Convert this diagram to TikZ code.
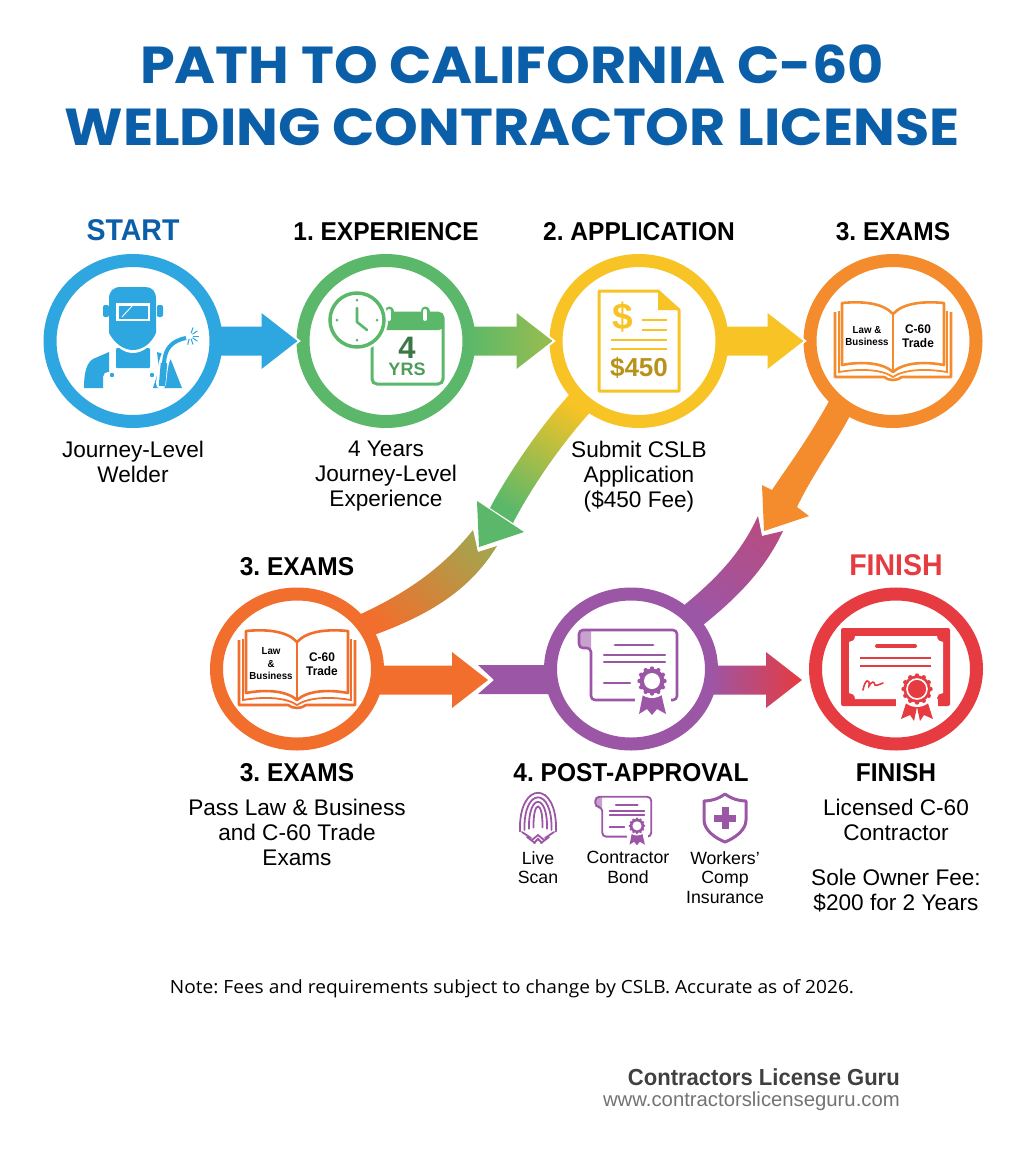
\documentclass[tikz,border=0pt]{standalone}
\usepackage{fontspec}
\usepackage{tikz}
\usetikzlibrary{calc,positioning,shapes.geometric}

\setmainfont{Liberation Sans}
\newfontfamily\headfont[FakeStretch=0.95]{Liberation Sans}
\newfontfamily\titlefont[FakeStretch=1.07]{Poppins}
\newfontfamily\notefont[FakeStretch=1.05]{Open Sans}
\frenchspacing

\definecolor{stepblue}{HTML}{2EA6DF}
\definecolor{stepgreen}{HTML}{5BB86A}
\definecolor{stepyellow}{HTML}{F7C325}
\definecolor{steporange}{HTML}{F48C2E}
\definecolor{stepember}{HTML}{F26E2C}
\definecolor{stepviolet}{HTML}{9C56A6}
\definecolor{stepred}{HTML}{E63B40}
\definecolor{titleblue}{HTML}{0B5FA8}

% straight thick arrow: source, target, tip shift, height, two colours
\newcommand{\flatarrow}[6]{
    \coordinate (tiphere) at ($(#2.west |- #1.center)+(#3,#4)$);
    \coordinate (tailhere) at ($(#1.east)+(-8,#4)$);
    \draw[halo] (tiphere) -- ++(-36,-28) -- ++(0,56) -- cycle;
    \shade[left color=#5,right color=#6] ($(tailhere)+(0,-14.5)$) -- ($(tiphere)+(-36,-14.5)$)
        -- ($(tiphere)+(-36,-28)$) -- (tiphere) -- ($(tiphere)+(-36,28)$)
        -- ($(tiphere)+(-36,14.5)$) -- ($(tailhere)+(0,14.5)$) -- cycle;
}

\newcommand{\rosette}[4]{ % x, y, radius, colour
    \begin{scope}[shift={(#1,#2)}]
        \fill[white] (0,0) circle [radius=#3+3];
        \fill[#4] (0,0) circle [radius=#3-1.5];
        \foreach \a in {0,30,...,330}
            \fill[#4] (\a:#3-1.5) circle [radius=2.2];
    \end{scope}
}

\newcommand{\bookicon}[4]{ % colour, left text, right text, name
    \draw[#1, line width=2.6pt, line join=round, fill=white]
        (-51,-38) .. controls (-30,-40) and (-10,-38) .. (0,-27)
        .. controls (10,-38) and (30,-40) .. (51,-38) -- (51,24)
        .. controls (30,20) and (10,22) .. (0,31)
        .. controls (-10,22) and (-30,20) .. (-51,24) -- cycle;
    \draw[#1, line width=2.6pt] (0,-27) -- (0,31);
    \draw[#1, line width=1.8pt] (-54,-30) -- (-54,31) .. controls (-30,27) and (-10,29) .. (0,36)
        .. controls (10,29) and (30,27) .. (54,31) -- (54,-30);
    \draw[#1, line width=2.6pt, line join=round] (-58,-29) -- (-58,36) -- (-9,36)
        .. controls (-4,40) and (4,40) .. (9,36) -- (58,36) -- (58,-29);
    \node[booktext] (#4law) at (-26,-5) {#2};
    \node[booktext, font=\headfont\bfseries\fontsize{12.5}{14.5}\selectfont] (#4trade) at (25,-5) {#3};
}

\newcommand{\scrollicon}[1]{ % line width
    \fill[stepviolet!55!white] (-52,-21) -- (-52,-34) .. controls (-52,-38) and (-49,-39) .. (-46,-39)
        -- (-40,-39) -- (-40,-21) -- cycle;
    \draw[stepviolet, line width=#1, line join=round, rounded corners=4pt]
        (-52,-21) -- (-52,-39) -- (46,-39) -- (46,31) -- (-40,31) -- (-40,-21) -- cycle;
    \draw[stepviolet, line width=1.1*#1, line cap=round] (-16,-24) -- (22,-24);
    \draw[stepviolet, line width=.8*#1, line cap=round] (-27,-14) -- (34,-14);
    \draw[stepviolet, line width=.8*#1, line cap=round] (-27,-7) -- (34,-7);
    \draw[stepviolet, line width=.8*#1, line cap=round] (-27,14) -- (-1,14);
    \fill[white] (4,22) rectangle (40,48);
    \fill[stepviolet] (13,20) -- (8,45) -- (16,40) -- (21,46) -- (26,40) -- (35,45) -- (29,20) -- cycle;
    \rosette{21}{12}{14}{stepviolet}
    \fill[white] (21,12) circle [radius=8];
}

\begin{document}
\begin{tikzpicture}[
    x = 1pt, y = -1pt, % one unit is one pixel of the picture
    node distance = 13pt,
    stepring/.style = {shape=ellipse, draw=#1, fill=white, line width=13pt, inner sep=0pt,
        minimum width=166pt, minimum height=161pt},
    lowring/.style = {stepring=#1, minimum width=161pt, minimum height=150pt},
    steptitle/.style = {inner sep=0pt, font=\headfont\bfseries\fontsize{25.8}{28}\selectfont},
    endtitle/.style = {inner sep=0pt, font=\headfont\bfseries\fontsize{30}{32}\selectfont},
    steptext/.style = {inner sep=0pt, align=center, font=\fontsize{22.6}{25}\selectfont},
    minitext/.style = {inner sep=0pt, align=center, font=\fontsize{17.7}{19.5}\selectfont},
    booktext/.style = {inner sep=0pt, align=center, font=\headfont\bfseries\fontsize{10.2}{12.5}\selectfont},
    halo/.style = {draw=white, line width=4pt, line join=miter}
    ]

    \useasboundingbox (0,0) rectangle (1024,1154);

    \node[inner sep=0pt, text=titleblue, align=center, font=\titlefont\bfseries\fontsize{52}{62}\selectfont]
        (headline) at (512,95) {PATH TO CALIFORNIA C-60\\WELDING CONTRACTOR LICENSE};

    % the rings
    \node[stepring=stepblue] (start) at (133,341) {};
    \node[stepring=stepgreen] (experience) [right=74pt of start] {};
    \node[stepring=stepyellow] (application) [right=74pt of experience] {};
    \node[stepring=steporange] (exams) [right=75pt of application] {};
    \node[lowring=stepember] (lowexams) at (297,669) {};
    \node[lowring=stepviolet] (post) at (631,669) {};
    \node[lowring=stepred] (finish) at (896,669) {};

    % bands that end in a swallow tail
    \fill[stepviolet] ($(post.west)+(8,-4)$) -- ($(post.west)+(-66,-4)$) -- ($(post.west)+(-50,11)$)
        -- ($(post.west)+(-66,25)$) -- ($(post.west)+(8,25)$) -- cycle;
    \coordinate (violetup) at (758,516);
    \coordinate (violetdown) at (783,531);
    \shade[top color=stepviolet!65!stepred, bottom color=stepviolet, shading angle=-35]
        ($(post.51)!6pt!(post.center)$) .. controls (715,580) and (740,555) .. (violetup) -- (762,536)
        -- (violetdown) .. controls (765,570) and (735,600) .. ($(post.31)!6pt!(post.center)$) -- cycle;
    \coordinate (emberup) at (473,530);
    \coordinate (emberdown) at (497,546);
    \shade[top color=stepgreen!50!steporange, bottom color=stepember, shading angle=-45]
        ($(lowexams.42)!6pt!(lowexams.center)$) .. controls (410,592) and (445,565) .. (emberup) -- (478,552)
        -- (emberdown) .. controls (470,590) and (430,615) .. ($(lowexams.24)!6pt!(lowexams.center)$) -- cycle;

    % arrows
    \flatarrow{start}{experience}{1}{0}{stepblue}{stepblue}
    \flatarrow{experience}{application}{3}{0}{stepgreen}{stepgreen!60!stepyellow}
    \flatarrow{application}{exams}{0}{0}{stepyellow}{stepyellow}
    \flatarrow{lowexams}{post}{-56}{11}{stepember}{stepember}
    \flatarrow{post}{finish}{-7}{11}{stepviolet}{stepred}

    \coordinate (greenwest) at (477,501);
    \coordinate (greentip) at (479,547);
    \coordinate (greeneast) at (524,532);
    \draw[halo] (greenwest) -- (greentip) -- (greeneast) -- cycle;
    \shade[top color=stepyellow, bottom color=stepgreen, shading angle=-30]
        ($(application.217)!6pt!(application.center)$) .. controls (545,420) and (510,470) .. (490,508)
        -- (513,523) .. controls (530,490) and (560,445) .. ($(application.236)!6pt!(application.center)$) -- cycle;
    \fill[stepgreen] (greenwest) -- (greentip) -- (greeneast) -- cycle;

    \coordinate (orangewest) at (762,485);
    \coordinate (orangetip) at (764,531);
    \coordinate (orangeeast) at (809,516);
    \draw[halo] (orangewest) -- (orangetip) -- (orangeeast) -- cycle;
    \fill[steporange] ($(exams.222)!6pt!(exams.center)$) .. controls (808,440) and (785,470) .. (772,490)
        -- (orangewest) -- (orangetip) -- (orangeeast) -- (797,507)
        .. controls (815,470) and (835,445) .. ($(exams.240)!6pt!(exams.center)$) -- cycle;

    % welder
    \begin{scope}[shift={(start.center)}]
        \fill[stepblue, rounded corners=2pt] (-30,-36) rectangle (-24,-24);
        \fill[stepblue, rounded corners=2pt] (24,-36) rectangle (30,-24);
        \fill[stepblue, rounded corners=1pt] (-17,7) rectangle (17,27);
        \fill[white] (-24,-8) .. controls (-20,4) and (-10,12) .. (0,12) .. controls (10,12) and (20,4) .. (24,-8) -- cycle;
        \fill[stepblue] (-24,-42) .. controls (-24,-50) and (-20,-54) .. (-12,-54) -- (12,-54)
            .. controls (19,-54) and (23,-50) .. (23,-42) -- (23,-8) .. controls (18,3) and (9,9) .. (0,9)
            .. controls (-9,9) and (-18,3) .. (-24,-8) -- cycle;
        \fill[white] (-17,-38) rectangle (17,-20);
        \fill[stepblue] (-14.5,-35.5) rectangle (14.5,-22.5);
        \draw[white, line width=.9pt] (-11,-24) -- (-1,-35);
        \fill[stepblue] (-49,47) .. controls (-49,30) and (-46,22) .. (-40,18) -- (-24,11) -- (-24,31)
            .. controls (-28,31) and (-30,33) .. (-30,36) -- (-30,47) -- cycle;
        \fill[stepblue] (24,11) -- (30,13) -- (38,19) -- (49,47) -- (20,47) -- (26,28) -- cycle;
        \fill[stepblue] (-21,34) circle [radius=2.2];
        \fill[stepblue] (19,34) circle [radius=2.2];
        \draw[white, line width=10pt, line cap=round] (28,43) .. controls (30,25) and (30,8) .. (50,-2);
        \draw[stepblue, line width=6.5pt] (29,45) -- (31,22);
        \draw[stepblue, line width=4pt] (31,22) .. controls (32,8) and (38,0) .. (53,-3);
        \foreach \a in {-70,-35,0,35,70,105}
            \draw[stepblue, line width=1pt] ($(57,-5)+(\a:3)$) -- ($(57,-5)+(\a:9)$);
    \end{scope}

    % clock and calendar
    \begin{scope}[shift={(experience.center)}]
        \draw[stepgreen, line width=3pt, rounded corners=5pt] (-14,-28) rectangle (57,43);
        \fill[stepgreen, rounded corners=4pt] (-14,-28) rectangle (57,-11);
        \draw[stepgreen, line width=9pt, line cap=round] (39,-30) -- (39,-22);
        \draw[white, line width=4pt, line cap=round] (39,-30) -- (39,-22);
        \draw[stepgreen, line width=9pt, line cap=round] (3,-30) -- (3,-22);
        \draw[white, line width=4pt, line cap=round] (3,-30) -- (3,-22);
        \fill[white] (-29,-21) circle [radius=31];
        \draw[stepgreen, line width=3.5pt] (-29,-21) circle [radius=27];
        \foreach \a in {0,90,180,270}
            \fill[stepgreen] ($(-29,-21)+(\a:20)$) circle [radius=1.5];
        \draw[stepgreen, line width=2.6pt, line cap=round, line join=round] (-29,-33) -- (-29,-19) -- (-19,-11);
        \node[inner sep=0pt, text=stepgreen!65!black, font=\bfseries\fontsize{31}{31}\selectfont] (fouryears) at (21,7) {4};
        \node[inner sep=0pt, text=stepgreen!85!black, font=\bfseries\fontsize{18}{18}\selectfont] (yrs) at (21,28) {YRS};
    \end{scope}

    % fee sheet
    \begin{scope}[shift={(application.center)}]
        \draw[stepyellow, line width=3pt, line join=round] (-40,-50) -- (19,-50) -- (40,-31) -- (40,50) -- (-40,50) -- cycle;
        \fill[stepyellow] (19,-50) -- (19,-31) -- (40,-31) -- cycle;
        \foreach \s/\e/\h in {3/28/-21, 3/28/-11, -28/28/-1, -28/28/8}
            \draw[stepyellow, line width=2.6pt] (\s,\h) -- (\e,\h);
        \node[inner sep=0pt, text=stepyellow, font=\bfseries\fontsize{37}{37}\selectfont] (dollar) at (-16,-24) {\$};
        \node[inner sep=0pt, text=stepyellow!75!black, font=\bfseries\fontsize{26}{26}\selectfont] (feesum) at (0,27) {\$450};
    \end{scope}

    % books
    \begin{scope}[shift={(exams.center)}]
        \bookicon{steporange}{Law \&\\Business}{C-60\\Trade}{top}
    \end{scope}
    \begin{scope}[shift={(lowexams.center)}]
        \bookicon{stepember}{Law\\\&\\Business}{C-60\\Trade}{low}
    \end{scope}

    % certificates
    \begin{scope}[shift={(post.center)}]
        \scrollicon{2.6pt}
    \end{scope}
    \begin{scope}[shift={(finish.center)}]
        \fill[stepred, rounded corners=2pt] (-55,-41) rectangle (54,37);
        \fill[white] (-41,-33) -- (41,-33) .. controls (41,-29) and (44,-27) .. (47,-27) -- (47,24)
            .. controls (44,24) and (41,26) .. (41,30) -- (-41,30) .. controls (-41,26) and (-44,24) .. (-47,24)
            -- (-47,-27) .. controls (-44,-27) and (-41,-29) .. (-41,-33) -- cycle;
        \draw[stepred, line width=4pt, line cap=round] (-19,-23) -- (19,-23);
        \draw[stepred, line width=2.6pt] (-36,-11) -- (35,-11);
        \draw[stepred, line width=2.6pt] (-36,-3) -- (35,-3);
        \draw[stepred, line width=1.6pt, line cap=round] (-33,21) .. controls (-31,10) and (-26,9) .. (-27,17)
            .. controls (-24,12) and (-22,12) .. (-21,16) .. controls (-19,17) and (-16,15) .. (-13,14);
        \fill[white] (0,30) rectangle (42,54);
        \fill[stepred] (12,28) -- (5,50) -- (14,46) -- (18,52) -- (21,38) -- (24,52) -- (28,46) -- (37,50) -- (30,28) -- cycle;
        \rosette{21}{20}{15}{stepred}
        \draw[white, line width=1.6pt] (21,20) circle [radius=10];
    \end{scope}

    % post approval extras
    \begin{scope}[shift={(538,818)}, stepviolet, line width=1.8pt, line cap=round]
        \foreach \r in {18,13.5,9,4.5}
            \draw (-\r,\r*.3+8) .. controls (-\r*1.1,-\r*1.45-12) and (\r*1.1,-\r*1.45-12) .. (\r,\r*.3+8);
        \draw (-16,14) -- (-7,20); \draw (16,14) -- (7,20);
        \draw (-11,19) -- (-3,25); \draw (11,19) -- (3,25);
        \draw (-6,22) -- (0,17) -- (6,22);
        \draw (-4,25) -- (0,21) -- (4,25);
    \end{scope}
    \begin{scope}[shift={(625,819)}, scale=.57]
        \scrollicon{1.9pt}
    \end{scope}
    \begin{scope}[shift={(725,818)}]
        \draw[stepviolet, line width=3pt, line join=round] (0,-24) .. controls (7,-19) and (14,-17) .. (21,-17) -- (21,2)
            .. controls (21,12) and (10,20) .. (0,24) .. controls (-10,20) and (-21,12) .. (-21,2) -- (-21,-17)
            .. controls (-14,-17) and (-7,-19) .. (0,-24) -- cycle;
        \fill[stepviolet] (-11,-3.5) rectangle (11,3.5);
        \fill[stepviolet] (-3.5,-11) rectangle (3.5,11);
    \end{scope}

    % labels over and under the rings
    \node[endtitle, text=titleblue] (startname) [above=of start] {START};
    \node[steptitle] (expname) [above=of experience] {1. EXPERIENCE};
    \node[steptitle] (appname) [above=of application] {2. APPLICATION};
    \node[steptitle] (examsname) [above=of exams] {3. EXAMS};
    \node[steptitle] (lowupname) [above=12pt of lowexams] {3. EXAMS};
    \node[endtitle, text=stepred] (finishup) [above=12pt of finish] {FINISH};

    \node[steptext] (starttext) [below=13pt of start] {Journey-Level\\Welder};
    \node[steptext] (exptext) [below=13pt of experience] {4 Years\\Journey-Level\\Experience};
    \node[steptext] (apptext) [below=13pt of application] {Submit CSLB\\Application\\(\$450 Fee)};

    \node[steptitle] (lowname) [below=of lowexams] {3. EXAMS};
    \node[steptitle] (postname) [below=of post] {4. POST-APPROVAL};
    \node[steptitle] (finishname) [below=of finish] {FINISH};
    \node[steptext] (lowtext) [below=17pt of lowname] {Pass Law \& Business\\and C-60 Trade\\Exams};
    \node[steptext] (finishtext) [below=17pt of finishname] {Licensed C-60\\Contractor\\[20pt]Sole Owner Fee:\\\$200 for 2 Years};

    \node[minitext, anchor=north] (scantext) at (538,851) {Live\\Scan};
    \node[minitext, anchor=north] (bondtext) at (628,851) {Contractor\\Bond};
    \node[minitext, anchor=north] (comptext) at (725,851) {Workers'\\Comp\\Insurance};

    \node[inner sep=0pt, font=\notefont\fontsize{18.2}{20}\selectfont] (note) at (512,989) {Note: Fees and requirements subject to change by CSLB. Accurate as of 2026.};

    \node[inner sep=0pt, anchor=east, text=black!75, font=\headfont\bfseries\fontsize{23.2}{26}\selectfont] (brand) at (900,1077) {Contractors License Guru};
    \node[inner sep=0pt, anchor=east, text=black!55, font=\fontsize{20.3}{22}\selectfont] (site) at (900,1101) {www.contractorslicenseguru.com};
\end{tikzpicture}
\end{document}
